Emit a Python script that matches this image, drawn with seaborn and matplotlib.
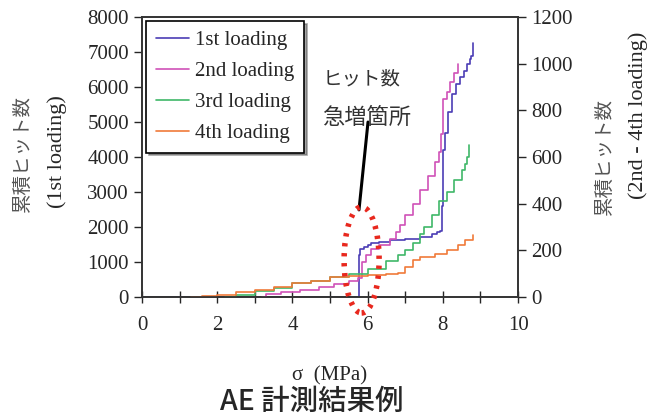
import numpy as np
import pandas as pd
import matplotlib
matplotlib.use('Agg')
import matplotlib.pyplot as plt
import seaborn as sns
from matplotlib.patches import Ellipse
from matplotlib.ticker import MultipleLocator

# stress (MPa) vs cumulative hit count
x1 = [0, 5.74, 5.76, 5.8, 5.9, 6.0, 6.1, 6.3, 6.6, 7.0, 7.4, 7.7, 7.85, 7.93, 7.97, 8.0, 8.05, 8.15, 8.25, 8.35, 8.45, 8.55, 8.65, 8.72, 8.76, 8.8]
y1 = [0, 0, 1200, 1380, 1420, 1480, 1540, 1580, 1620, 1660, 1720, 1800, 1850, 1900, 2600, 4200, 4700, 5300, 5800, 6100, 6300, 6450, 6650, 6800, 6900, 7250]

x2 = [3.2, 3.3, 3.7, 4.2, 4.7, 5.1, 5.5, 5.75, 5.85, 5.95, 6.1, 6.3, 6.6, 6.75, 6.85, 7.0, 7.2, 7.4, 7.6, 7.8, 7.9, 7.95, 8.0, 8.1, 8.2, 8.3, 8.4]
y2 = [0, 12, 20, 32, 45, 55, 68, 80, 150, 180, 205, 225, 250, 280, 310, 350, 400, 460, 520, 580, 620, 700, 850, 880, 920, 960, 1000]

x3 = [2.2, 2.5, 3.0, 3.5, 4.0, 4.5, 5.0, 5.5, 6.0, 6.5, 6.8, 7.0, 7.2, 7.4, 7.5, 7.7, 7.9, 8.1, 8.3, 8.5, 8.6, 8.65, 8.7]
y3 = [0, 10, 25, 40, 58, 70, 85, 100, 120, 155, 180, 200, 230, 270, 300, 350, 410, 450, 500, 545, 570, 600, 650]

x4 = [1.3, 1.6, 2.0, 2.5, 3.0, 3.5, 4.0, 4.5, 5.0, 5.5, 6.0, 6.5, 6.8, 7.0, 7.2, 7.4, 7.8, 8.1, 8.4, 8.6, 8.8]
y4 = [0, 5, 10, 20, 30, 45, 60, 70, 85, 90, 95, 97, 105, 130, 160, 170, 185, 200, 225, 245, 265]

labels = ['1st loading', '2nd loading', '3rd loading', '4th loading']
colors = ['#4b3db5', '#d052b8', '#3fb868', '#f07a3a']

sns.set_style('ticks')
plt.rcParams['font.family'] = ['Liberation Serif', 'Noto Sans CJK JP']
cjk = 'Noto Sans CJK JP'

fig = plt.figure(figsize=(6.5, 4.16), dpi=100)
ax = fig.add_axes([0.2185, 0.286, 0.5785, 0.673])
ax2 = ax.twinx()

sns.lineplot(x=x1, y=y1, ax=ax, color=colors[0], lw=1.2, drawstyle='steps-post',
             estimator=None, sort=False, label=labels[0], legend=False)
for xs, ys, c, lab in zip([x2, x3, x4], [y2, y3, y4], colors[1:], labels[1:]):
    sns.lineplot(x=xs, y=ys, ax=ax2, color=c, lw=1.2, drawstyle='steps-post',
                 estimator=None, sort=False, label=lab, legend=False)

ax.set_xlim(0, 10)
ax.set_ylim(0, 8000)
ax2.set_ylim(0, 1200)
ax.xaxis.set_major_locator(MultipleLocator(2))
ax.xaxis.set_minor_locator(MultipleLocator(1))
ax.set_yticks(np.arange(0, 8001, 1000))
ax2.set_yticks(np.arange(0, 1201, 200))
ax.tick_params(axis='x', which='both', direction='inout', length=8, width=1, labelsize=15, pad=10)
ax.tick_params(axis='y', direction='out', length=6, width=1, labelsize=15)
ax2.tick_params(axis='y', direction='out', length=6, width=1, labelsize=15)
for a in (ax, ax2):
    for s in a.spines.values():
        s.set_color('#333333')
        s.set_linewidth(1.2)

ax.set_xlabel('σ  (MPa)', fontsize=15, labelpad=22)
ax.set_ylabel('')
ax2.set_ylabel('')

fig.text(0.034, 0.632, '累積ヒット数', rotation=90, ha='center', va='center', fontsize=14, family=cjk, color='#555555')
fig.text(0.088, 0.635, '(1st loading)', rotation=90, ha='center', va='center', fontsize=16)
fig.text(0.930, 0.623, '累積ヒット数', rotation=90, ha='center', va='center', fontsize=14, family=cjk, color='#555555')
fig.text(0.981, 0.724, '(2nd - 4th loading)', rotation=90, ha='center', va='center', fontsize=16)
fig.text(0.48, 0.035, 'AE 計測結果例', ha='center', va='center', fontsize=20.5, family=cjk, weight='medium')

# annotation
ax.text(4.79, 6520, 'ヒット数', fontsize=14, family=cjk, color='#333333', va='top')
ax.text(4.79, 5450, '急増箇所', fontsize=16, family=cjk, color='#333333', va='top')
ax.plot([6.01, 5.77], [5000, 2490], color='black', lw=2.2)
ax2.add_patch(Ellipse((5.84, 1060 * 0.15), 0.93, 3030 * 0.15, fill=False, edgecolor='#e8281e',
                      ls=(0, (0.6, 1.2)), lw=4, clip_on=False, zorder=5))

h1, l1 = ax.get_legend_handles_labels()
h2, l2 = ax2.get_legend_handles_labels()
leg = ax2.legend(h1 + h2, l1 + l2, loc='upper left', bbox_to_anchor=(0.0, 1.0),
                 fontsize=15, frameon=True, fancybox=False, shadow=True,
                 handlelength=1.6, handletextpad=0.3, borderpad=0.45,
                 labelspacing=0.55, borderaxespad=0.2)
leg.get_frame().set_edgecolor('black')
leg.get_frame().set_linewidth(1.2)

fig.savefig('out.png', dpi=100)
